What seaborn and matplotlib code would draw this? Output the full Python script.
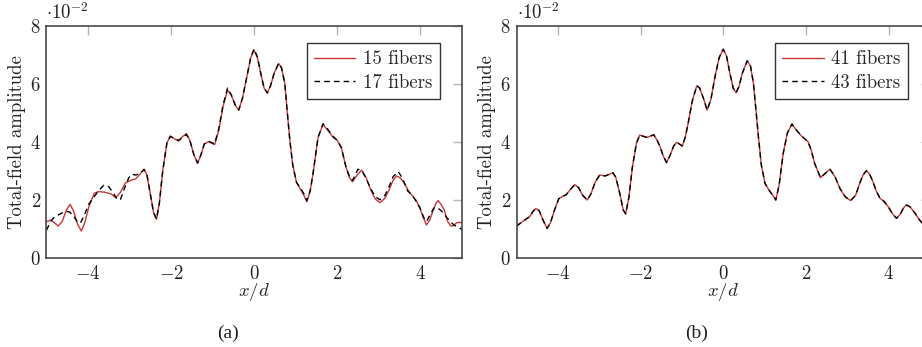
import numpy as np
import pandas as pd
import matplotlib
matplotlib.use("Agg")
import matplotlib.pyplot as plt
import seaborn as sns

# ---- data (amplitude in units of 1e-2) ----
x_15 = [-5.0, -4.9, -4.8, -4.72, -4.62, -4.52, -4.43, -4.35, -4.25, -4.16, -4.08, -3.98,
        -3.85, -3.75, -3.6, -3.45, -3.33, -3.22, -3.1, -2.95, -2.85, -2.75, -2.65, -2.58,
        -2.5, -2.42, -2.35, -2.28, -2.2, -2.1, -2.02, -1.92, -1.82, -1.72, -1.63, -1.55,
        -1.45, -1.36, -1.28, -1.2, -1.1, -0.95, -0.85, -0.75, -0.64, -0.55, -0.45, -0.37,
        -0.28, -0.18, -0.08, 0.0, 0.08, 0.16, 0.24, 0.32, 0.40, 0.48, 0.59, 0.66, 0.74,
        0.80, 0.86, 0.93, 1.02, 1.14, 1.20, 1.27, 1.35, 1.42, 1.54, 1.66, 1.78, 1.89, 2.0,
        2.1, 2.21, 2.30, 2.37, 2.48, 2.59, 2.7, 2.81, 2.92, 3.03, 3.15, 3.25, 3.34, 3.43,
        3.52, 3.62, 3.72, 3.81, 3.9, 3.98, 4.07, 4.15, 4.23, 4.30, 4.38, 4.43, 4.5, 4.58,
        4.66, 4.74, 4.80, 4.86, 4.92, 5.0]
amp_15 = [1.24, 1.30, 1.20, 1.09, 1.25, 1.65, 1.84, 1.62, 1.15, 0.92, 1.20, 1.75,
          2.22, 2.28, 2.26, 2.20, 2.07, 2.25, 2.58, 2.68, 2.72, 2.88, 3.06, 2.85,
          2.20, 1.55, 1.32, 1.90, 3.00, 3.95, 4.20, 4.10, 4.02, 4.18, 4.28, 4.06,
          3.55, 3.25, 3.55, 3.92, 4.00, 3.90, 4.40, 5.20, 5.78, 5.60, 5.25, 5.09,
          5.50, 6.20, 6.90, 7.15, 6.90, 6.36, 5.85, 5.68, 5.95, 6.35, 6.70, 6.55, 6.00,
          5.00, 4.06, 3.20, 2.60, 2.30, 2.15, 1.93, 2.30, 2.91, 4.15, 4.60, 4.38, 4.17, 4.05,
          3.80, 3.14, 2.75, 2.62, 2.85, 3.02, 2.75, 2.33, 2.02, 1.90, 2.05, 2.33, 2.65, 2.82,
          2.75, 2.56, 2.30, 2.14, 1.98, 1.76, 1.40, 1.13, 1.30, 1.59, 1.88, 1.97, 1.85, 1.64,
          1.25, 1.09, 1.10, 1.19, 1.22, 1.21]

x_17 = [-5.0, -4.9, -4.8, -4.68, -4.55, -4.45, -4.35, -4.25, -4.18, -4.08, -3.98, -3.88,
        -3.75, -3.62, -3.5, -3.4, -3.3, -3.22, -3.12, -3.02, -2.95, -2.85, -2.75, -2.65,
        -2.58, -2.5, -2.42, -2.35, -2.28, -2.2, -2.1, -2.02, -1.92, -1.82, -1.72, -1.63,
        -1.55, -1.45, -1.36, -1.28, -1.2, -1.1, -0.95, -0.85, -0.75, -0.64, -0.55, -0.45,
        -0.37, -0.28, -0.18, -0.08, 0.0, 0.08, 0.16, 0.24, 0.32, 0.40, 0.48, 0.59, 0.66,
        0.74, 0.80, 0.86, 0.93, 1.02, 1.14, 1.20, 1.27, 1.35, 1.42, 1.54, 1.66, 1.78, 1.89,
        2.0, 2.1, 2.21, 2.30, 2.37, 2.5, 2.6, 2.7, 2.81, 2.92, 3.03, 3.15, 3.25, 3.35, 3.47,
        3.57, 3.7, 3.81, 3.9, 4.0, 4.08, 4.15, 4.25, 4.33, 4.42, 4.52, 4.62, 4.72, 4.82,
        4.92, 5.0]
amp_17 = [0.95, 1.25, 1.42, 1.50, 1.60, 1.58, 1.45, 1.22, 1.20, 1.50, 1.85, 2.05,
          2.30, 2.50, 2.45, 2.25, 2.02, 2.00, 2.40, 2.75, 2.88, 2.85, 2.90, 3.04,
          2.85, 2.20, 1.55, 1.34, 1.90, 3.00, 3.95, 4.18, 4.12, 4.05, 4.15, 4.25,
          4.06, 3.55, 3.27, 3.55, 3.92, 4.02, 3.92, 4.45, 5.25, 5.85, 5.62, 5.25,
          5.09, 5.50, 6.20, 6.92, 7.20, 6.92, 6.36, 5.85, 5.68, 5.95, 6.35, 6.70, 6.55,
          6.00, 5.00, 4.06, 3.20, 2.60, 2.35, 2.20, 1.97, 2.30, 2.91, 4.15, 4.62, 4.42, 4.20,
          4.05, 3.80, 3.14, 2.78, 2.66, 3.05, 3.00, 2.72, 2.38, 2.10, 2.00, 2.15, 2.45, 2.80,
          2.97, 2.75, 2.30, 2.15, 1.95, 1.70, 1.40, 1.25, 1.50, 1.72, 1.72, 1.60, 1.42, 1.25,
          1.12, 1.05, 0.98]

x_41 = [-5.0, -4.88, -4.78, -4.68, -4.6, -4.53, -4.45, -4.36, -4.26, -4.18, -4.08, -3.98,
        -3.88, -3.8, -3.7, -3.59, -3.5, -3.4, -3.29, -3.2, -3.1, -2.99, -2.85, -2.75,
        -2.67, -2.6, -2.5, -2.42, -2.36, -2.28, -2.2, -2.1, -2.02, -1.92, -1.84, -1.75,
        -1.68, -1.6, -1.53, -1.45, -1.37, -1.28, -1.2, -1.13, -1.06, -0.99, -0.92, -0.85,
        -0.75, -0.64, -0.57, -0.48, -0.39, -0.3, -0.2, -0.1, 0.0, 0.08, 0.16, 0.24, 0.31,
        0.38, 0.46, 0.58, 0.66, 0.73, 0.79, 0.85, 0.92, 1.01, 1.13, 1.2, 1.27, 1.35, 1.45,
        1.55, 1.66, 1.78, 1.89, 2.05, 2.13, 2.21, 2.35, 2.46, 2.58, 2.7, 2.82, 2.95, 3.08,
        3.2, 3.3, 3.38, 3.46, 3.54, 3.62, 3.7, 3.79, 3.88, 3.99, 4.1, 4.19, 4.28, 4.36,
        4.43, 4.52, 4.64, 4.72, 4.8, 4.9, 5.0]
amp_41 = [1.09, 1.22, 1.32, 1.42, 1.60, 1.70, 1.62, 1.30, 1.01, 1.20, 1.65, 2.03,
          2.12, 2.17, 2.35, 2.52, 2.42, 2.15, 1.99, 2.20, 2.60, 2.85, 2.82, 2.88,
          2.93, 2.78, 2.20, 1.65, 1.51, 2.10, 3.10, 3.95, 4.23, 4.18, 4.15, 4.20,
          4.24, 4.05, 3.83, 3.50, 3.28, 3.55, 3.85, 3.98, 3.92, 3.85, 4.15, 4.63,
          5.40, 5.93, 5.85, 5.50, 5.09, 5.45, 6.24, 6.90, 7.19, 6.95, 6.36, 5.85, 5.69,
          5.90, 6.36, 6.79, 6.60, 6.01, 5.10, 4.17, 3.20, 2.56, 2.28, 2.15, 1.99, 2.50, 3.60,
          4.30, 4.61, 4.38, 4.20, 4.00, 3.70, 3.25, 2.76, 2.90, 3.05, 2.80, 2.39, 2.10, 1.97,
          2.15, 2.57, 2.85, 3.00, 2.88, 2.62, 2.30, 2.05, 1.95, 1.76, 1.50, 1.36, 1.50, 1.72,
          1.82, 1.75, 1.53, 1.35, 1.21, 1.15, 1.12]

# 43 fibers lies on top of 41 fibers everywhere in the figure
x_43 = list(x_41)
amp_43 = list(amp_41)

panels = [
    ("(a)", 228, [("15 fibers", x_15, amp_15), ("17 fibers", x_17, amp_17)]),
    ("(b)", 697, [("41 fibers", x_41, amp_41), ("43 fibers", x_43, amp_43)]),
]
y_ticks = [0, 2, 4, 6, 8]
x_ticks = [-4, -2, 0, 2, 4]

sns.set_theme(style="white")
plt.rcParams["font.family"] = ["cmr10", "DejaVu Serif"]
plt.rcParams["mathtext.fontset"] = "cm"
plt.rcParams["axes.formatter.use_mathtext"] = True

RED = "#c83737"
TXT = "#222222"
FS = 13.5
fig = plt.figure(figsize=(9.22, 3.47), dpi=100)
axes_rects = [[0.0504, 0.2573, 0.4504, 0.6686], [0.5602, 0.2573, 0.4485, 0.6686]]

for rect, (tag, cap_x, series) in zip(axes_rects, panels):
    ax = fig.add_axes(rect)
    (lab1, xa, ya), (lab2, xb, yb) = series
    sns.lineplot(x=xa, y=ya, ax=ax, color=RED, lw=1.0, label=lab1,
                 estimator=None, sort=False)
    sns.lineplot(x=xb, y=yb, ax=ax, color="black", lw=1.0, label=lab2,
                 estimator=None, sort=False)
    ax.lines[1].set_linestyle((0, (4, 3)))

    ax.set_xlim(-5, 5)
    ax.set_ylim(0, 8)
    ax.set_xticks(x_ticks)
    ax.set_yticks(y_ticks)
    ax.set_xticklabels([f"${v}$" for v in x_ticks])
    ax.set_yticklabels([f"${v}$" for v in y_ticks])
    ax.tick_params(direction="in", length=6.5, width=1.0, color="#b4b4b4",
                   top=True, right=True, labelsize=FS, labelcolor=TXT, pad=4)
    ax.tick_params(axis="x", pad=5)
    for sp in ax.spines.values():
        sp.set_color("#3a3a3a")
        sp.set_linewidth(1.1)

    ax.set_xlabel(r"$x/d$", fontsize=FS, labelpad=-1, color=TXT)
    ax.set_ylabel("Total-field amplitude", fontsize=FS, color=TXT)
    ax.yaxis.set_label_coords(-0.05, 0.5)
    ax.text(0.0, 1.01, r"$\cdot 10^{-2}$", transform=ax.transAxes, fontsize=FS,
            ha="left", va="bottom", color=TXT)

    leg = ax.legend(loc="upper right", bbox_to_anchor=(1.0 - 22 / 415.0, 1.0 - 17 / 232.0),
                    borderaxespad=0, fontsize=FS, frameon=True, fancybox=False,
                    handlelength=2.2, handletextpad=0.4, borderpad=0.4,
                    labelspacing=0.3)
    leg.get_frame().set_edgecolor("black")
    leg.get_frame().set_linewidth(1.0)

    fig.text(cap_x / 922.0, 0.015, tag, family=["Liberation Serif"], fontsize=14,
             ha="center", va="bottom", color=TXT)

fig.savefig("out.png", dpi=100)
